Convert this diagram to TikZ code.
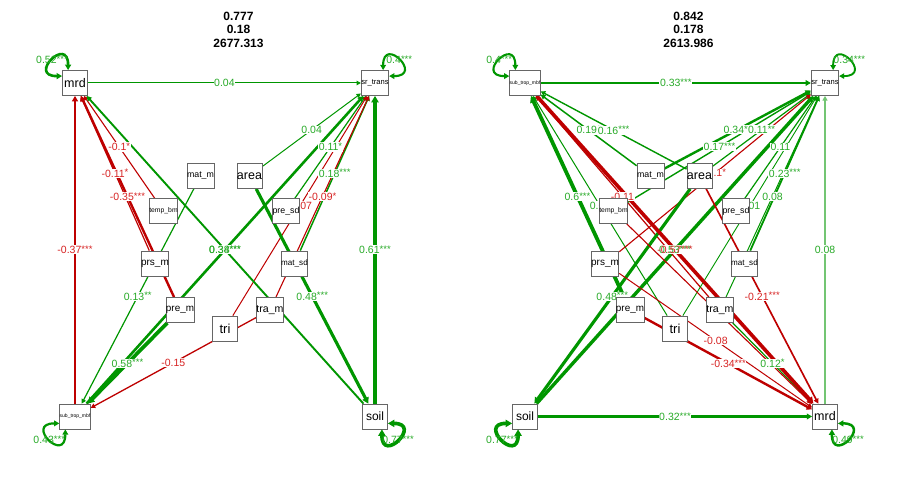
\documentclass[tikz,border=0pt]{standalone}
\usepackage{fontspec}
\setmainfont{Liberation Sans}
\usetikzlibrary{arrows.meta}
\definecolor{pos}{RGB}{0,150,0}
\definecolor{neg}{RGB}{190,0,0}
\definecolor{poslab}{RGB}{40,170,40}
\definecolor{neglab}{RGB}{215,35,35}
\pgfdeclarelayer{edges}
\pgfdeclarelayer{labels}
\pgfsetlayers{edges,labels,main}
\newcommand\setfs[1]{\fontsize{#1}{#1}\selectfont}
\newcommand\sig[1]{\raisebox{1.2pt}{\setfs{9.5}#1}}

\begin{document}
\begin{tikzpicture}[
    x=1pt, y=1pt,
    box/.style={rectangle, draw=black!60, line width=0.8pt, fill=white, minimum size=25pt, inner sep=0pt, text=black},
    edge/.style={-{Triangle[length=3.5pt 0.8, width=3.5pt 1]}},
    resid/.style={{Triangle[length=3.5pt 0.8, width=3.5pt 1]}-{Triangle[length=3.5pt 0.8, width=3.5pt 1]}, draw=pos},
    lbl/.style={fill=white, inner sep=0.6pt, font=\setfs{10.5}},
    rlbl/.style={inner sep=0.6pt, font=\setfs{10.5}, text=poslab},
    ttl/.style={align=center, font=\bfseries\fontsize{12}{13.5}\selectfont, inner sep=0pt}
]
\useasboundingbox (0,0) rectangle (900,500);
\begin{pgfonlayer}{edges}
\fill[white] (0,0) rectangle (900,500);
\end{pgfonlayer}

% fit indices
\node[ttl] (Lttl) at (238.5,470.5) {0.777\\0.18\\2677.313};
\node[ttl] (Rttl) at (688.5,470.5) {0.842\\0.178\\2613.986};

% predictors, both panels
\foreach \p/\sx in {L/0, R/450} {
  \node[box, font=\setfs{8.8}] (\p matm) at (200.5+\sx,324) {mat\_m};
  \node[box, font=\setfs{12.5}] (\p area) at (249.5+\sx,324) {area};
  \node[box, font=\setfs{6.8}] (\p temp) at (163.5+\sx,289) {temp\_bm};
  \node[box, font=\setfs{8.8}] (\p presd) at (286+\sx,289) {pre\_sd};
  \node[box, font=\setfs{10}] (\p prsm) at (155+\sx,236.5) {prs\_m};
  \node[box, font=\setfs{8.1}] (\p matsd) at (294.5+\sx,236.5) {mat\_sd};
  \node[box, font=\setfs{9.9}] (\p prem) at (180+\sx,190) {pre\_m};
  \node[box, font=\setfs{10.6}] (\p tram) at (270+\sx,190) {tra\_m};
  \node[box, font=\setfs{13}] (\p tri) at (225+\sx,171.5) {tri};
}

% outcomes
\node[box, font=\setfs{12.5}] (Lmrd) at (75,417) {mrd};
\node[box, font=\setfs{7.6}] (Lsrt) at (375,417) {sr\_trans};
\node[box, font=\setfs{5}] (Lsub) at (75,83.5) {sub\_trop\_mbf};
\node[box, font=\setfs{12}] (Lsoil) at (375,83.5) {soil};
\node[box, font=\setfs{5}] (Rsub) at (525,417) {sub\_trop\_mbf};
\node[box, font=\setfs{7.6}] (Rsrt) at (825,417) {sr\_trans};
\node[box, font=\setfs{12}] (Rsoil) at (525,83.5) {soil};
\node[box, font=\setfs{12.5}] (Rmrd) at (825,83.5) {mrd};

% left paths
\foreach \f/\t/\w/\c/\l in {
  mrd/srt/1.0/pos/{0.04},
  sub/mrd/2.54/neg/{-0.37\sig{***}},
  soil/srt/3.86/pos/{0.61\sig{***}},
  area/srt/1.0/pos/{0.04},
  presd/srt/1.2/pos/{0.11\sig{*}},
  matsd/srt/1.5/pos/{0.18\sig{***}},
  tram/srt/1.1/neg/{-0.09\sig{*}},
  tri/srt/1.0/neg/{-0.07},
  area/soil/3.14/pos/{0.48\sig{***}},
  temp/mrd/1.1/neg/{-0.1\sig{*}},
  prsm/mrd/1.2/neg/{-0.11\sig{*}},
  prem/mrd/2.4/neg/{-0.35\sig{***}},
  matm/sub/1.2/pos/{0.13\sig{**}},
  prem/sub/3.7/pos/{0.58\sig{***}},
  tram/sub/1.3/neg/{-0.15},
  soil/mrd/1.9/pos/{0.34\sig{***}}} {
  \begin{pgfonlayer}{edges}
    \draw[edge, draw=\c, line width=\w pt] (L\f) -- (L\t);
  \end{pgfonlayer}
  \begin{pgfonlayer}{labels}
    \path (L\f) -- node[lbl, text=\c lab] {\l} (L\t);
  \end{pgfonlayer}
}
\begin{pgfonlayer}{edges}
\draw[edge, draw=pos, line width=2.6pt] (Lsub) -- (Lsrt);
\end{pgfonlayer}
\begin{pgfonlayer}{labels}
\path (Lsub) -- node[lbl, fill=none, text=poslab] {0.38\sig{***}} (Lsrt);
\end{pgfonlayer}

% right paths
\foreach \f/\t/\w/\c/\l in {
  sub/srt/2.3/pos/{0.33\sig{***}},
  soil/mrd/2.26/pos/{0.32\sig{***}},
  soil/srt/3.4/pos/{0.53\sig{***}},
  matm/sub/1.5/pos/{0.19\sig{*}},
  area/sub/1.4/pos/{0.16\sig{***}},
  prem/sub/3.8/pos/{0.6\sig{***}},
  tri/sub/1.0/pos/{0.07},
  tram/sub/1.2/neg/{-0.11},
  matm/srt/2.4/pos/{0.34\sig{**}},
  area/srt/1.2/pos/{0.11\sig{**}},
  temp/srt/1.4/pos/{0.17\sig{***}},
  prsm/srt/1.1/neg/{-0.1\sig{*}},
  presd/srt/1.2/pos/{0.11},
  matsd/srt/1.8/pos/{0.23\sig{***}},
  tram/srt/1.0/pos/{0.08},
  tri/srt/0.9/pos/{0.01},
  area/soil/3.14/pos/{0.48\sig{***}},
  area/mrd/1.65/neg/{-0.21\sig{***}},
  prsm/mrd/1.0/neg/{-0.08},
  prem/mrd/2.4/neg/{-0.34\sig{***}},
  tram/mrd/1.2/pos/{0.12\sig{*}}} {
  \begin{pgfonlayer}{edges}
    \draw[edge, draw=\c, line width=\w pt] (R\f) -- (R\t);
  \end{pgfonlayer}
  \begin{pgfonlayer}{labels}
    \path (R\f) -- node[lbl, text=\c lab] {\l} (R\t);
  \end{pgfonlayer}
}
\begin{pgfonlayer}{edges}
\draw[edge, draw=neg, line width=1.1pt] (Rtemp) -- (Rmrd);
\draw[edge, draw=neg, line width=3.6pt] (Rsub) -- (Rmrd);
\draw[edge, draw=pos!55, line width=1.6pt] (Rmrd) -- (Rsrt);
\end{pgfonlayer}
\begin{pgfonlayer}{labels}
\path (Rsub) -- node[lbl, fill=none, text=neglab] {-0.57\sig{***}} (Rmrd);
\path (Rmrd) -- node[lbl, text=poslab] {0.08} (Rsrt);
\end{pgfonlayer}

% residual variances
\draw[resid, line width=2.6pt] ([yshift=-6pt]Lmrd.north west) .. controls +(-35,0) and +(0,35) .. ([xshift=6pt]Lmrd.north west) node[midway, rlbl] {0.52\sig{***}};
\draw[resid, line width=2.1pt] ([xshift=-6pt]Lsrt.north east) .. controls +(0,35) and +(35,0) .. ([yshift=-6pt]Lsrt.north east) node[midway, rlbl] {0.4\sig{***}};
\draw[resid, line width=2.2pt] ([yshift=6pt]Lsub.south west) .. controls +(-35,0) and +(0,-35) .. ([xshift=6pt]Lsub.south west) node[midway, rlbl] {0.43\sig{***}};
\draw[resid, line width=3.6pt] ([xshift=-6pt]Lsoil.south east) .. controls +(0,-35) and +(35,0) .. ([yshift=6pt]Lsoil.south east) node[midway, rlbl] {0.77\sig{***}};
\draw[resid, line width=2.1pt] ([yshift=-6pt]Rsub.north west) .. controls +(-35,0) and +(0,35) .. ([xshift=6pt]Rsub.north west) node[midway, rlbl] {0.4\sig{***}};
\draw[resid, line width=1.9pt] ([xshift=-6pt]Rsrt.north east) .. controls +(0,35) and +(35,0) .. ([yshift=-6pt]Rsrt.north east) node[midway, rlbl] {0.34\sig{***}};
\draw[resid, line width=3.6pt] ([yshift=6pt]Rsoil.south west) .. controls +(-35,0) and +(0,-35) .. ([xshift=6pt]Rsoil.south west) node[midway, rlbl] {0.77\sig{***}};
\draw[resid, line width=2.5pt] ([xshift=-6pt]Rmrd.south east) .. controls +(0,-35) and +(35,0) .. ([yshift=6pt]Rmrd.south east) node[midway, rlbl] {0.49\sig{***}};
\end{tikzpicture}
\end{document}
